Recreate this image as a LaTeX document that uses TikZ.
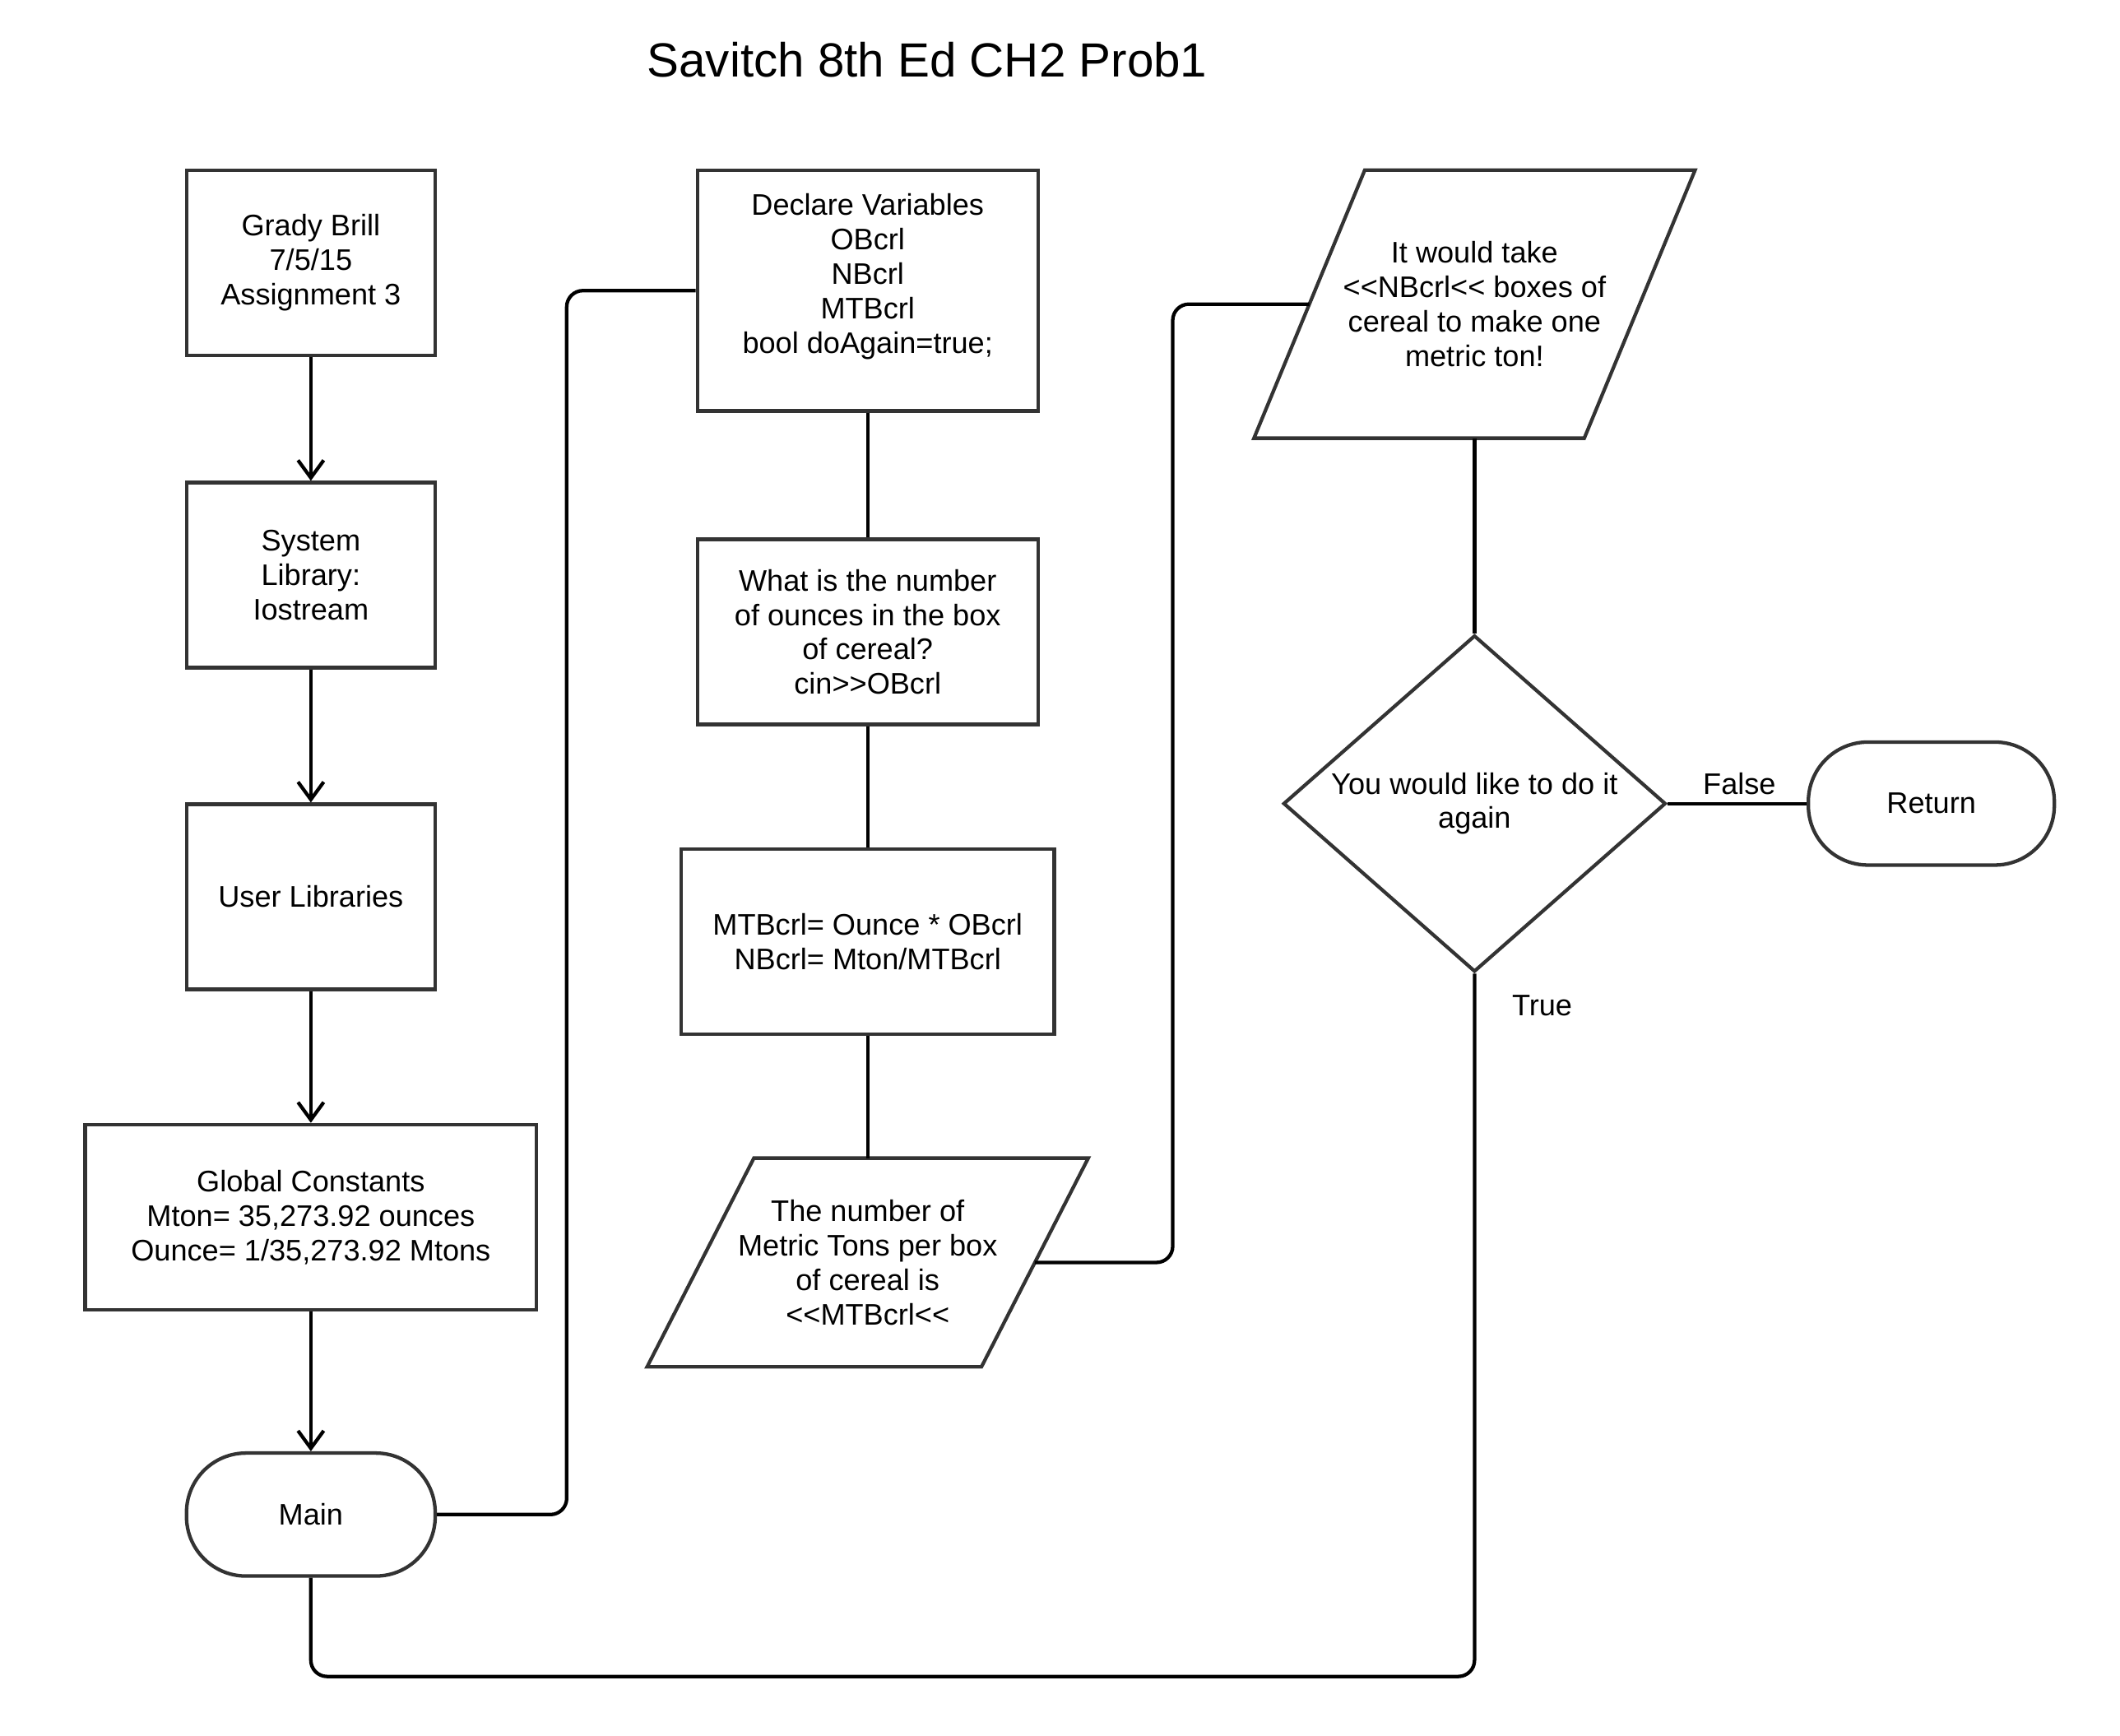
\documentclass[tikz,border=0pt]{standalone}
\usepackage{fontspec}
\setmainfont{Liberation Sans}
\usetikzlibrary{arrows.meta,shapes.geometric,calc}
\definecolor{boxline}{HTML}{333333}
\tikzset{
  txt/.style={font=\fontsize{22}{25.5}\selectfont, align=center, inner sep=0pt},
  procbox/.style={txt, draw=boxline, line width=2.6pt, rectangle, minimum width=#1},
  procbox/.default=184pt,
  termbox/.style={txt, draw=boxline, line width=2.6pt, rectangle, rounded corners=44pt, minimum width=184pt, minimum height=91pt},
  parabox/.style={txt, rectangle, minimum width=326pt},
  parashape/.style={draw=boxline, line width=2.6pt, line join=miter},
  decbox/.style={txt, draw=boxline, line width=2.6pt, diamond, aspect=1.14, minimum width=283pt, minimum height=249pt},
  conn/.style={draw=black, line width=2.6pt, rounded corners=12pt},
  arrowconn/.style={conn, -{Straight Barb[length=13pt,width=19pt]}},
}
\begin{document}
\begin{tikzpicture}[x=1pt,y=-1pt]
\useasboundingbox (0,0) rectangle (1568.6,1284.3);
\fill[white] (0,0) rectangle (1568.6,1284.3);

% title
\node[font=\fontsize{35.5}{42}\selectfont, inner sep=0pt] (title) at (686,44) {Savitch 8th Ed CH2 Prob1};

% left column
\node[procbox, minimum height=137pt] (grady) at (230,194.5) {Grady Brill\\7/5/15\\Assignment 3};
\node[procbox, minimum height=137pt] (syslib) at (230,425.5) {System\\Library:\\Iostream};
\node[procbox, minimum height=137pt] (userlib) at (230,663.5) {User Libraries};
\node[procbox=334pt, minimum height=137pt] (glob) at (230,900.5) {Global Constants\\Mton= 35,273.92 ounces\\Ounce= 1/35,273.92 Mtons};
\node[termbox] (main) at (230,1120.5) {Main};

% middle column
\node[procbox=252pt, minimum height=178pt] (decl) at (642,215) {Declare Variables\\OBcrl\\NBcrl\\MTBcrl\\bool doAgain=true;\\\mbox{}};
\node[procbox=252pt, minimum height=137pt] (ask) at (642,467.5) {What is the number\\of ounces in the box\\of cereal?\\cin>{}>OBcrl};
\node[procbox=276pt, minimum height=137pt] (calc) at (642,696.5) {MTBcrl= Ounce * OBcrl\\NBcrl= Mton/MTBcrl};
\node[parabox, minimum height=154pt] (out1) at (642,934) {The number of\\Metric Tons per box\\of cereal is\\<{}<MTBcrl<{}<};
\draw[parashape] ([xshift=79pt]out1.north west) -- (out1.north east) -- ([xshift=-79pt]out1.south east) -- (out1.south west) -- cycle;

% right column
\node[parabox, minimum height=198pt] (out2) at (1091,225) {It would take\\<{}<NBcrl<{}< boxes of\\cereal to make one\\metric ton!};
\draw[parashape] ([xshift=82pt]out2.north west) -- (out2.north east) -- ([xshift=-82pt]out2.south east) -- (out2.south west) -- cycle;
\node[decbox] (again) at (1091,594.5) {You would like to do it\\again};
\node[termbox, minimum width=182pt] (ret) at (1429,594.5) {Return};

% connectors
\draw[arrowconn] (grady.south) -- (syslib.north);
\draw[arrowconn] (syslib.south) -- (userlib.north);
\draw[arrowconn] (userlib.south) -- (glob.north);
\draw[arrowconn] (glob.south) -- (main.north);

\draw[conn] (main.east) -- ++(96,0) |- (decl.west);
\draw[conn] (decl.south) -- (ask.north);
\draw[conn] (ask.south) -- (calc.north);
\draw[conn] (calc.south) -- (out1.north);
\draw[conn] ([xshift=-39.5pt]out1.east) -- ++(102,0) |- ([xshift=41pt]out2.west);
\draw[conn] (out2.south) -- (again.north);
\draw[conn] (again.east) -- (ret.west);
\draw[conn] (again.south) -- ++(0,520) -| (main.south);

% labels
\node[txt] (flabel) at (1287,580) {False};
\node[txt] (tlabel) at (1141,744) {True};
\end{tikzpicture}
\end{document}
